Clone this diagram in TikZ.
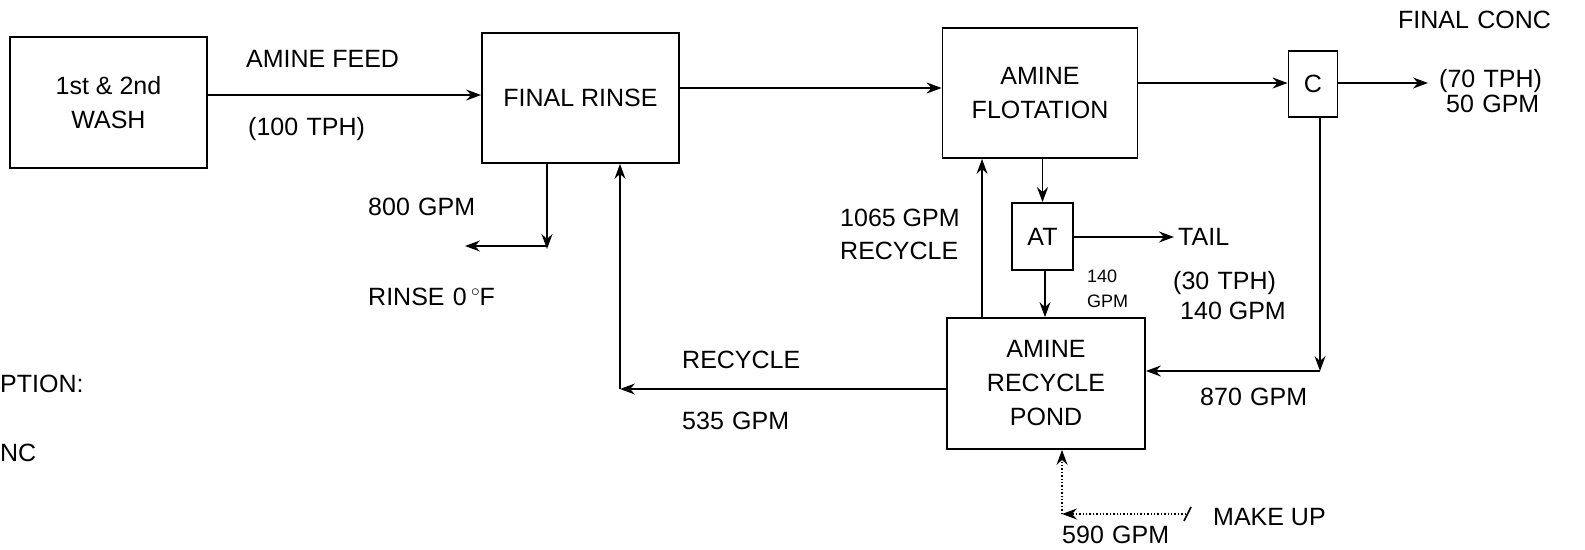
\documentclass[tikz,border=0pt]{standalone}
\usepackage{fontspec}
\setmainfont{Liberation Sans}
\usetikzlibrary{arrows.meta}
\tikzset{
  box/.style={draw, line width=1.8pt, align=center, inner sep=0pt, font=\fontsize{25}{34}\selectfont},
  lbl/.style={anchor=west, inner sep=0pt, font=\fontsize{25}{32}\selectfont},
  small/.style={anchor=west, inner sep=0pt, font=\fontsize{18}{22}\selectfont},
  arr/.style={line width=1.7pt, -{Stealth[length=15pt,width=11pt,inset=5pt]}},
  ln/.style={line width=1.7pt},
  dotarr/.style={line width=1.4pt, dotted, -{Stealth[length=15pt,width=11pt,inset=5pt]}}
}
\begin{document}
\begin{tikzpicture}[x=1pt,y=-1pt]
\useasboundingbox[fill=white] (0,0) rectangle (1585,549);
% boxes
\node[box, minimum width=197pt, minimum height=131pt] (wash) at (108.5,102.5) {1st \& 2nd\\WASH};
\node[box, minimum width=197pt, minimum height=130pt] (rinse) at (580.5,98) {FINAL RINSE};
\node[box, minimum width=195pt, minimum height=130pt] (flot) at (1040,93) {AMINE\\FLOTATION};
\node[box, minimum width=49pt, minimum height=66pt] (C) at (1313,84) {C};
\node[box, minimum width=61pt, minimum height=67pt] (AT) at (1042.5,236.5) {AT};
\node[box, minimum width=198pt, minimum height=131pt] (pond) at (1046,383.5) {AMINE\\RECYCLE\\POND};
% free ends
\coordinate (rinsecorner) at (547,246);
\coordinate (rinseout) at (465,246);
\coordinate (reccorner) at (620,389);
\coordinate (concout) at (1428,83);
\coordinate (tailout) at (1174,237);
\coordinate (ccorner) at (1320,369);
\coordinate (mkstart) at (1186,514);
\coordinate (mkcorner) at (1062,514);
% connectors
\draw[arr] (wash.east |- 0,95) -- (rinse.west |- 0,95);
\draw[arr] (rinse.east |- 0,88) -- (flot.west |- 0,88);
\draw[arr] (flot.east |- 0,83) -- (C.west |- 0,83);
\draw[arr] (C.east |- concout) -- (concout);
\draw[arr] (rinse.south -| rinsecorner) -- ([yshift=-3pt]rinsecorner);
\draw[arr] (rinsecorner) -- (rinseout);
\draw[arr] (pond.west |- reccorner) -- (reccorner);
\draw[arr] (reccorner) -- (rinse.south -| reccorner);
\draw[arr] (pond.north -| 982,0) -- (flot.south -| 982,0);
\draw[arr] (flot.south -| AT.north) -- (AT.north);
\draw[arr] (AT.south -| 1045,0) -- (pond.north -| 1045,0);
\draw[arr] (AT.east |- tailout) -- (tailout);
\draw[arr] (C.south -| ccorner) -- ([yshift=-2pt]ccorner);
\draw[arr] (ccorner |- 0,371) -- (pond.east |- 0,371);
\draw[dotarr] (mkstart) -- (mkcorner);
\draw[dotarr] (mkcorner) -- (pond.south -| mkcorner);
\draw[ln] (1184,521) -- (1191,507);
% labels
\node[lbl] (lfeed) at (246,59) {AMINE FEED};
\node[lbl] (ltph) at (248,129) {(100\,\,TPH)};
\node[lbl] (l800) at (368,207) {800\,\,GPM};
\node[lbl] (lrinse) at (368,297) {RINSE\,\,0\,\raisebox{9pt}{\fontsize{17}{17}\selectfont$\circ$}F};
\node[lbl] (lrec) at (682,360) {RECYCLE};
\node[lbl] (l535) at (682,421) {535\,\,GPM};
\node[lbl] (l1065) at (840,218) {1065 GPM};
\node[lbl] (lrec2) at (840,251) {RECYCLE};
\node[small] (l140a) at (1087,276) {140};
\node[small] (l140b) at (1087,301) {GPM};
\node[lbl] (ltail) at (1178,237) {TAIL};
\node[lbl] (l30) at (1173,283) {(30\,\,TPH)};
\node[lbl] (l140) at (1180,311) {140 GPM};
\node[lbl] (l870) at (1200,397) {870\,\,GPM};
\node[lbl] (lfc) at (1398,20) {FINAL\,\,CONC};
\node[lbl] (l70) at (1439,81) {(70\,\,TPH)};
\node[lbl] (l50) at (1446,104) {50\,\,GPM};
\node[lbl] (lmk) at (1213,517) {MAKE UP};
\node[lbl] (l590) at (1062,535) {590\,\,GPM};
\node[lbl] (lption) at (0,384) {PTION:};
\node[lbl] (lnc) at (0,453) {NC};
\end{tikzpicture}
\end{document}
